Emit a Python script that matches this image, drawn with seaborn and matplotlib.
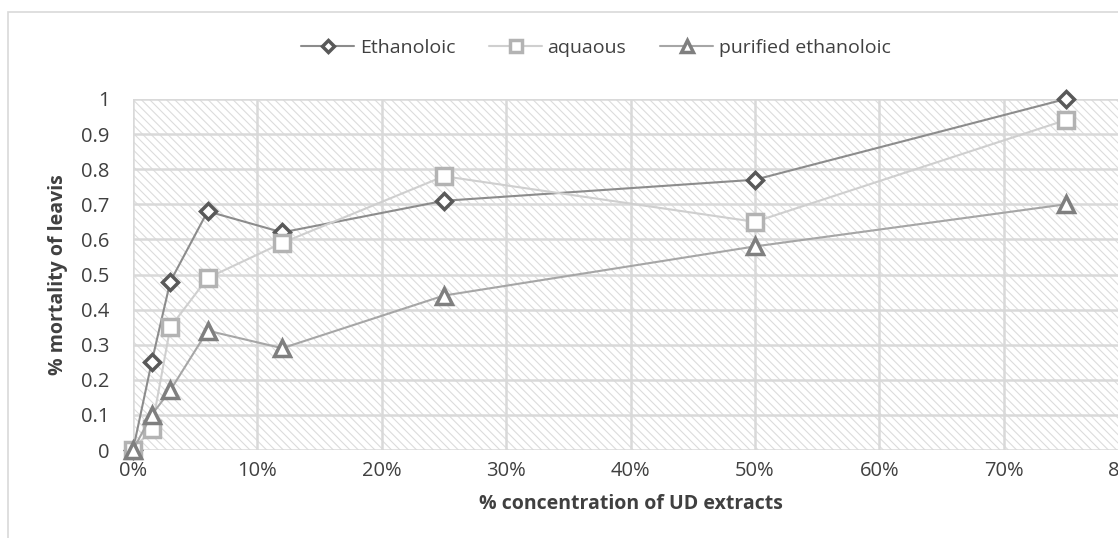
import matplotlib
matplotlib.use("Agg")
import matplotlib.pyplot as plt
import seaborn as sns
import numpy as np
import pandas as pd
from matplotlib.patches import Rectangle
from matplotlib.ticker import FuncFormatter, MultipleLocator

concentration = [0.0, 1.5, 3.0, 6.0, 12.0, 25.0, 50.0, 75.0]
ethanoloic = [0.0, 0.25, 0.48, 0.68, 0.62, 0.71, 0.77, 1.0]
aquaous = [0.0, 0.06, 0.35, 0.49, 0.59, 0.78, 0.65, 0.94]
purified = [0.0, 0.10, 0.17, 0.34, 0.29, 0.44, 0.58, 0.70]
series_names = ["Ethanoloic", "aquaous", "purified ethanoloic"]
x_ticks = [0, 10, 20, 30, 40, 50, 60, 70, 80]
y_ticks = [0, 0.1, 0.2, 0.3, 0.4, 0.5, 0.6, 0.7, 0.8, 0.9, 1]

sns.set_theme(style="white")
plt.rcParams['font.family'] = ['Open Sans', 'DejaVu Sans']
plt.rcParams['hatch.linewidth'] = 0.8
plt.rcParams['hatch.color'] = '#dcdcdc'

fig = plt.figure(figsize=(11.18, 5.38), dpi=100)
# outer chart border
fig.patches.append(Rectangle((8/1118, -0.1), 1.2, 1 - 12/538 + 0.1, transform=fig.transFigure,
                             fill=False, edgecolor='#d9d9d9', linewidth=1.2))
ax = fig.add_axes([133/1118, 1 - 450/538, 995/1118, 351/538])

ax.add_patch(Rectangle((0, 0), 1, 1, transform=ax.transAxes, facecolor='white',
                       hatch='\\\\\\\\', edgecolor='#dcdcdc', linewidth=0, zorder=0))

styles = [
    dict(marker='D', line='#8c8c8c', edge='#595959', ms=8.5),
    dict(marker='s', line='#cfcfcf', edge='#b3b3b3', ms=11),
    dict(marker='^', line='#a6a6a6', edge='#7f7f7f', ms=12),
]
data = [ethanoloic, aquaous, purified]
for name, vals, st in zip(series_names, data, styles):
    df = pd.DataFrame({"x": concentration, "y": vals})
    sns.lineplot(data=df, x="x", y="y", ax=ax, color=st['line'], linewidth=1.5,
                 marker=st['marker'], markersize=st['ms'], markerfacecolor='white',
                 markeredgecolor=st['edge'], markeredgewidth=2.5, clip_on=False,
                 zorder=5, label=name)

ax.set_xlim(0, 80)
ax.set_ylim(0, 1)
ax.set_xticks(x_ticks)
ax.set_yticks(y_ticks)
ax.xaxis.set_major_formatter(FuncFormatter(lambda v, p: f"{int(round(v))}%"))
ax.yaxis.set_major_formatter(FuncFormatter(lambda v, p: f"{v:g}"))
ax.grid(True, color='#d9d9d9', linewidth=1.8, zorder=1)
ax.set_axisbelow(True)
for s in ax.spines.values():
    s.set_visible(False)
ax.tick_params(axis='both', length=0, labelsize=14.5, colors='#404040')
ax.tick_params(axis='x', pad=8)
ax.tick_params(axis='y', pad=17)
ax.set_xlabel("% concentration of UD extracts", fontsize=14, fontweight='bold', color='#404040', labelpad=9)
ax.set_ylabel("% mortality of leavis", fontsize=14, fontweight='bold', color='#404040', labelpad=9)

leg = ax.legend(loc='center', bbox_to_anchor=((596 - 133) / 995, (450 - 48) / 351), ncol=3,
                frameon=False, fontsize=14, handlelength=2.7, columnspacing=1.75, handletextpad=0.3,
                markerscale=0.75)
for t in leg.get_texts():
    t.set_color('#404040')

fig.savefig("out.png", dpi=100)
